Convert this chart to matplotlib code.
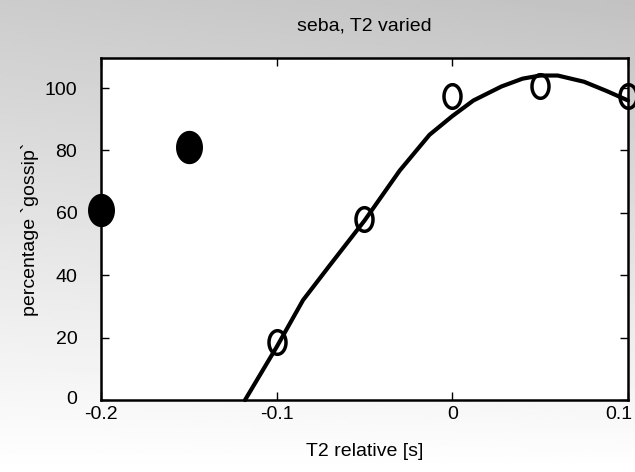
import numpy as np
import matplotlib
matplotlib.use('Agg')
import matplotlib.pyplot as plt
import matplotlib.transforms as mtransforms
from matplotlib.path import Path

plt.rcParams['font.family'] = ['Liberation Sans', 'DejaVu Sans']

# measured points
filled_x = [-0.2, -0.15]
filled_y = [61, 81]
open_x = [-0.1, -0.05, 0.0, 0.05, 0.1]
open_y = [18.5, 58, 97.5, 100.8, 97.5]

# fitted curve
curve_x = [-0.118, -0.1, -0.085, -0.07, -0.05, -0.03, -0.013, 0.0, 0.012, 0.028, 0.04, 0.05, 0.06, 0.075, 0.088, 0.1]
curve_y = [0, 17, 32, 43, 57.5, 73.5, 85, 91, 96, 100.5, 103, 104, 104, 102, 99, 96]

xticks = [-0.2, -0.1, 0, 0.1]
xticklabels = ['-0.2', '-0.1', '0', '0.1']
yticks = [0, 20, 40, 60, 80, 100]

# tall ellipse marker
t = np.linspace(0, 2 * np.pi, 60)
ellipse = Path(np.column_stack([0.72 * np.cos(t), np.sin(t)]), closed=True)
blob = Path(np.column_stack([0.8 * np.cos(t), np.sin(t)]), closed=True)

fig = plt.figure(figsize=(6.35, 4.72), dpi=100)

# grey background gradient
bg = fig.add_axes([0, 0, 1, 1], zorder=-1)
gy, gx = np.mgrid[0:1:200j, 0:1:200j]
shade = 0.80 + 0.20 * gy - 0.04 * gx * (1 - gy)
bg.imshow(shade, cmap='gray', vmin=0, vmax=1, aspect='auto', extent=[0, 1, 0, 1], origin='upper')
bg.axis('off')

ax = fig.add_axes([0.159, 0.1525, 0.83, 0.7245])
ax.plot(curve_x, curve_y, color='black', lw=3, solid_capstyle='round', clip_on=False)
ax.plot(open_x, open_y, linestyle='none', marker=ellipse, markersize=17,
        markerfacecolor='none', markeredgecolor='black', markeredgewidth=2.5, clip_on=False)
ax.plot(filled_x, filled_y, linestyle='none', marker=blob, markersize=23,
        color='black', clip_on=False, zorder=5)

ax.set_xlim(-0.2, 0.1)
ax.set_ylim(0, 109.6)
ax.set_xticks(xticks)
ax.set_xticklabels(xticklabels)
ax.set_yticks(yticks)
ax.tick_params(direction='in', length=6, width=1, top=True, right=True, labelsize=14)
ax.tick_params(axis='y', pad=17)
ax.tick_params(axis='x', pad=4)
for s in ax.spines.values():
    s.set_linewidth(1.8)

# keep the last x label inside the figure, as in the original
last = ax.get_xticklabels()[-1]
last.set_transform(last.get_transform() + mtransforms.ScaledTranslation(-9 / 100, 0, fig.dpi_scale_trans))
# lift the y=0 label a bit so it clears -0.2
first = ax.get_yticklabels()[0]
first.set_transform(first.get_transform() + mtransforms.ScaledTranslation(0, 3 / 100, fig.dpi_scale_trans))

ax.set_title('seba, T2 varied', fontsize=14, pad=20)
ax.set_xlabel('T2 relative [s]', fontsize=14, labelpad=15)
ax.set_ylabel('percentage `gossip`', fontsize=14, labelpad=4)

fig.savefig('out.png', dpi=100)
